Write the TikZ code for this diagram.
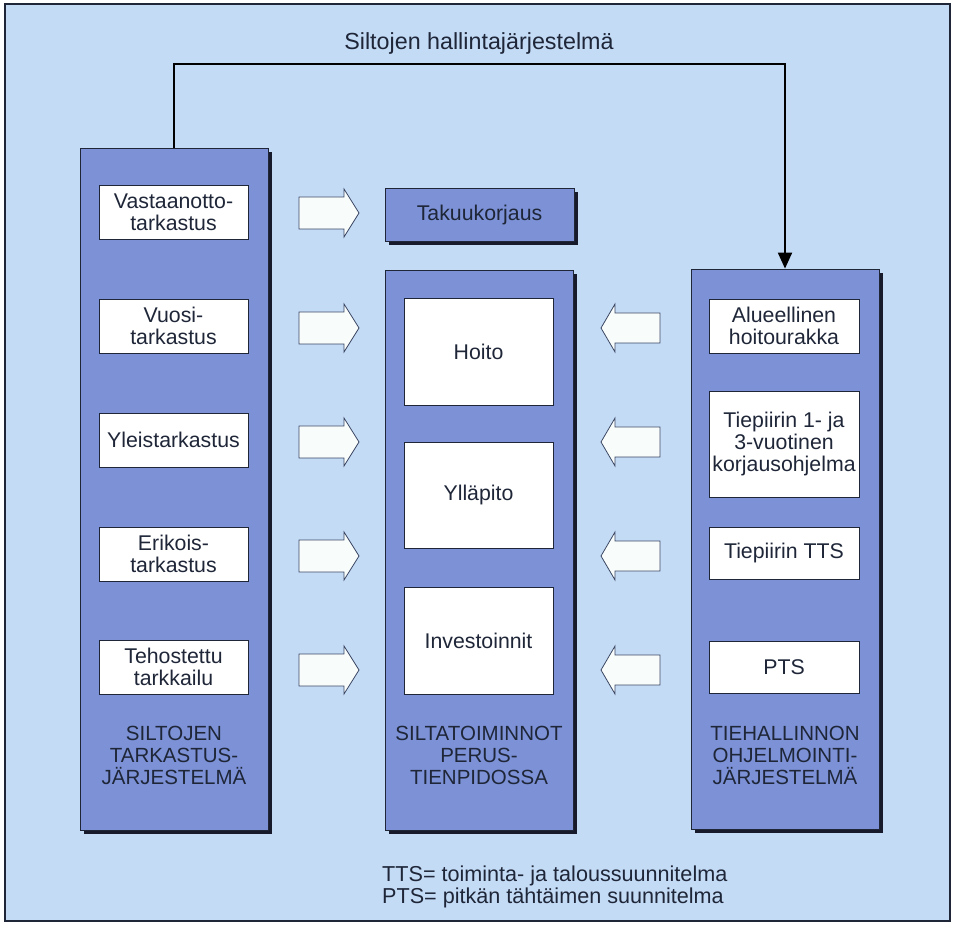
\documentclass[tikz,border=0pt]{standalone}
\usepackage{fontspec}
\setmainfont{Liberation Sans}
\usetikzlibrary{arrows.meta,shadows}
\definecolor{bgblue}{RGB}{196,219,246}
\definecolor{panelblue}{RGB}{124,145,214}
\definecolor{shadowc}{RGB}{22,26,42}
\definecolor{inkc}{RGB}{30,38,56}
\definecolor{arrowfill}{RGB}{248,252,251}
\definecolor{arrowline}{RGB}{60,72,100}
\begin{document}
\begin{tikzpicture}[x=1pt,y=-1pt,
  panelbox/.style={draw=inkc, line width=0.8pt, fill=panelblue, inner sep=0pt,
    general shadow={shadow xshift=4pt, shadow yshift=-4pt, opacity=1, fill=shadowc}},
  whitebox/.style={draw=inkc, line width=0.8pt, fill=white, align=center,
    font=\fontsize{21.3}{22}\selectfont, text=inkc, inner sep=0pt},
  caplabel/.style={align=center, font=\fontsize{20.5}{22}\selectfont, text=inkc, inner sep=0pt},
  blockarrow/.style={draw=arrowline, line width=0.8pt, fill=arrowfill, line join=miter},
  conn/.style={draw=black, line width=2pt, -{Triangle[length=16pt,width=14pt]}},
  plaintext/.style={font=\fontsize{21.6}{22}\selectfont, text=inkc, inner sep=0pt}
]
\useasboundingbox (0,0) rectangle (954,925);
\fill[white] (0,0) rectangle (954,925);
\draw[fill=bgblue, draw=inkc, line width=1.4pt] (5,4) rectangle (950,921);

% title
\node[plaintext, font=\fontsize{23.3}{24}\selectfont] (title) at (479,43) {Siltojen hallintajärjestelmä};

% panels
\node[panelbox, minimum width=188pt, minimum height=682pt] (left) at (174,489) {};
\node[panelbox, minimum width=189pt, minimum height=53pt, font=\fontsize{21.3}{22}\selectfont, text=inkc] (taku) at (479.5,214.5) {Takuukorjaus};
\node[panelbox, minimum width=188pt, minimum height=560pt] (mid) at (479,550) {};
\node[panelbox, minimum width=188pt, minimum height=560pt] (right) at (785,549) {};

% connector
\draw[conn] (left.north) -- ++(0,-84) -| (right.north);

% left boxes
\node[whitebox, minimum width=149pt, minimum height=54pt] (l1) at (173.5,212) {Vastaanotto-\\tarkastus};
\node[whitebox, minimum width=149pt, minimum height=54pt] (l2) at (173.5,326) {Vuosi-\\tarkastus};
\node[whitebox, minimum width=149pt, minimum height=54pt] (l3) at (173.5,440) {Yleistarkastus};
\node[whitebox, minimum width=149pt, minimum height=54pt] (l4) at (173.5,554) {Erikois-\\tarkastus};
\node[whitebox, minimum width=149pt, minimum height=54pt] (l5) at (173.5,667) {Tehostettu\\tarkkailu};
\node[caplabel] (llab) at (174,755) {SILTOJEN\\TARKASTUS-\\JÄRJESTELMÄ};

% middle boxes
\node[whitebox, minimum width=149pt, minimum height=107pt] (m1) at (478.5,351.5) {Hoito};
\node[whitebox, minimum width=149pt, minimum height=106pt] (m2) at (478.5,495) {Ylläpito};
\node[whitebox, minimum width=149pt, minimum height=107pt] (m3) at (478.5,640.5) {Investoinnit};
\node[caplabel] (mlab) at (479,755) {SILTATOIMINNOT\\PERUS-\\TIENPIDOSSA};

% right boxes
\node[whitebox, minimum width=150pt, minimum height=54pt] (r1) at (784,326) {Alueellinen\\hoitourakka};
\node[whitebox, minimum width=150pt, minimum height=106pt] (r2) at (784,444) {Tiepiirin 1- ja\\3-vuotinen\\korjausohjelma};
\node[whitebox, minimum width=150pt, minimum height=52pt] (r3) at (784,553) {Tiepiirin TTS};
\node[whitebox, minimum width=150pt, minimum height=52pt] (r4) at (784,667) {PTS};
\node[caplabel] (rlab) at (785,755) {TIEHALLINNON\\OHJELMOINTI-\\JÄRJESTELMÄ};

% block arrows pointing right
\foreach \yy in {213,328,442,556,670}{
  \draw[blockarrow] (299,\yy-16) -- (344,\yy-16) -- (344,\yy-24) -- (359,\yy) -- (344,\yy+24) -- (344,\yy+16) -- (299,\yy+16) -- cycle;
}
% block arrows pointing left
\foreach \yy in {328,442,556,670}{
  \draw[blockarrow] (660,\yy-15) -- (615,\yy-15) -- (615,\yy-24) -- (601,\yy) -- (615,\yy+24) -- (615,\yy+15) -- (660,\yy+15) -- cycle;
}

% footnote
\node[plaintext, anchor=base west] (fn1) at (382,881) {TTS= toiminta- ja taloussuunnitelma};
\node[plaintext, anchor=base west] (fn2) at (382,903) {PTS= pitkän tähtäimen suunnitelma};
\end{tikzpicture}
\end{document}
